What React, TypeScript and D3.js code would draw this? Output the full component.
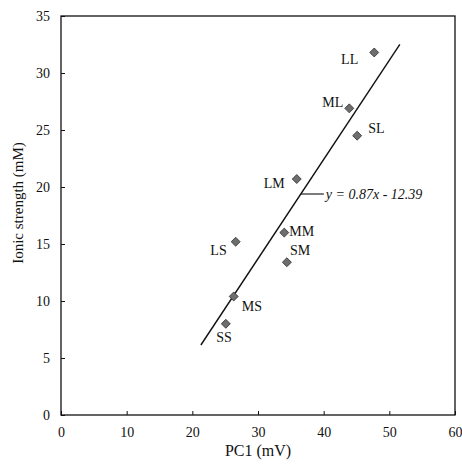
import { useEffect, useRef } from "react";
import * as d3 from "d3";

const labels = ["LL", "ML", "SL", "LM", "MM", "SM", "LS", "MS", "SS"];
const pc1 = [47.7, 43.9, 45.1, 35.9, 34.0, 34.4, 26.6, 26.3, 25.1];
const ionic = [31.8, 26.9, 24.5, 20.7, 16.0, 13.4, 15.2, 10.4, 8.0];
// label offsets from marker (dx, dy, anchor)
const labelDx = [-16, -6, 11, -12, 5, 3, -9, 8, 6];
const labelDy = [12, -1, -3, 9, 3, -7, 13, 15, 18];
const labelAnchor = ["end", "end", "start", "end", "start", "start", "end", "start", "end"];
const xTicks = [0, 10, 20, 30, 40, 50, 60];
const yTicks = [0, 5, 10, 15, 20, 25, 30, 35];
const slope = 0.87;
const intercept = -12.39;
const fitRange = [21.3, 51.6];

const W = 462;
const H = 467;
const M = { top: 16, right: 7, bottom: 52, left: 61 };

export default function App() {
  const ref = useRef<SVGSVGElement>(null);

  useEffect(() => {
    const svg = d3.select(ref.current);
    svg.selectAll("*").remove();
    const font = "'Liberation Serif', 'Times New Roman', serif";

    const x = d3.scaleLinear().domain([0, 60]).range([M.left, W - M.right]);
    const y = d3.scaleLinear().domain([0, 35]).range([H - M.bottom, M.top]);

    svg.append("rect")
      .attr("x", x(0)).attr("y", y(35))
      .attr("width", x(60) - x(0)).attr("height", y(0) - y(35))
      .attr("fill", "none").attr("stroke", "#111").attr("stroke-width", 1.3);

    const gx = svg.append("g").attr("transform", `translate(0,${y(0)})`)
      .call(d3.axisBottom(x).tickValues(xTicks).tickSizeInner(-4).tickSizeOuter(0).tickPadding(12));
    const gy = svg.append("g").attr("transform", `translate(${x(0)},0)`)
      .call(d3.axisLeft(y).tickValues(yTicks).tickSizeInner(-4).tickSizeOuter(0).tickPadding(11));
    [gx, gy].forEach((g) => {
      g.select(".domain").remove();
      g.selectAll("line").attr("stroke", "#111");
      g.selectAll("text").attr("font-family", font).attr("font-size", 14).attr("fill", "#111");
    });

    svg.append("line")
      .attr("x1", x(fitRange[0])).attr("y1", y(slope * fitRange[0] + intercept))
      .attr("x2", x(fitRange[1])).attr("y2", y(slope * fitRange[1] + intercept))
      .attr("stroke", "#111").attr("stroke-width", 1.4);

    // equation annotation
    const ey = 194;
    const ex = x((y.invert(ey) - intercept) / slope);
    svg.append("line")
      .attr("x1", ex).attr("y1", ey).attr("x2", ex + 23).attr("y2", ey)
      .attr("stroke", "#111").attr("stroke-width", 1.1);
    svg.append("text")
      .attr("x", ex + 25).attr("y", ey + 4.5)
      .attr("font-family", font).attr("font-style", "italic").attr("font-size", 14)
      .attr("fill", "#111")
      .text(`y = ${slope}x - ${Math.abs(intercept)}`);

    const sym = d3.symbol().type(d3.symbolSquare).size(40);
    const pts = svg.append("g");
    labels.forEach((lab, i) => {
      const px = x(pc1[i]);
      const py = y(ionic[i]);
      pts.append("path")
        .attr("d", sym())
        .attr("transform", `translate(${px},${py}) rotate(45)`)
        .attr("fill", "#6e6e6e").attr("stroke", "#333").attr("stroke-width", 0.8);
      pts.append("text")
        .attr("x", px + labelDx[i]).attr("y", py + labelDy[i])
        .attr("text-anchor", labelAnchor[i])
        .attr("font-family", font).attr("font-size", 14).attr("fill", "#111")
        .text(lab);
    });

    svg.append("text")
      .attr("x", (x(0) + x(60)) / 2).attr("y", 456)
      .attr("text-anchor", "middle")
      .attr("font-family", font).attr("font-size", 16).attr("fill", "#111")
      .text("PC1 (mV)");
    svg.append("text")
      .attr("transform", `translate(23,203) rotate(-90)`)
      .attr("text-anchor", "middle")
      .attr("font-family", font).attr("font-size", 15).attr("fill", "#111")
      .text("Ionic strength (mM)");
  }, []);

  return (
    <svg ref={ref} width={W} height={H}
      style={{ position: "absolute", left: 0, top: 0, background: "#fff" }} />
  );
}
